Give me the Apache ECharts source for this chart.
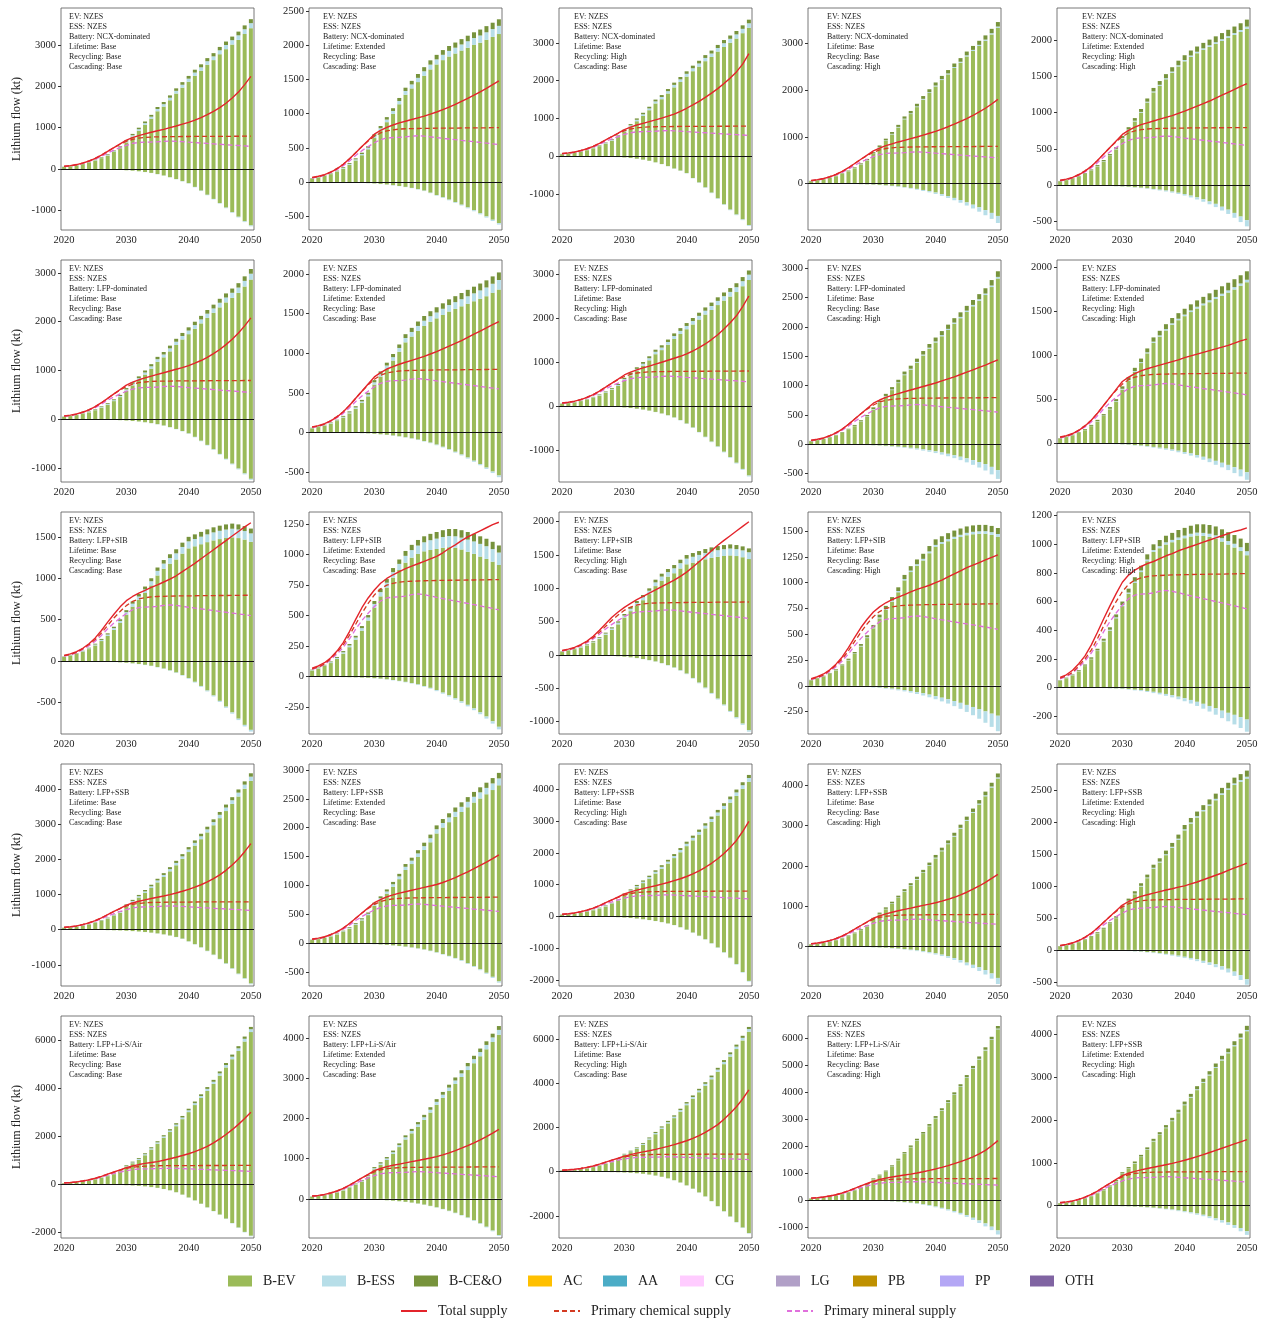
<!DOCTYPE html>
<html>
<head>
<meta charset="utf-8">
<script src="https://cdn.jsdelivr.net/npm/echarts@6/dist/echarts.min.js"></script>
<style>
  html, body { margin: 0; padding: 0; background: #fff; }
  #chart { width: 1267px; height: 1325px; }
</style>
</head>
<body>
<div id="chart"></div>
<script>
// years on the x axis
const years = ['2020','2021','2022','2023','2024','2025','2026','2027','2028','2029','2030',
  '2031','2032','2033','2034','2035','2036','2037','2038','2039','2040',
  '2041','2042','2043','2044','2045','2046','2047','2048','2049','2050'];

// supply lines shared by all panels (kt)
const chemSupply = [65,80,105,150,200,260,340,430,520,600,670,720,750,765,775,780,782,784,786,787,788,789,790,790,791,792,792,793,794,795,795];
const mineralSupply = [60,75,100,140,185,240,310,390,460,520,575,620,645,652,655,660,672,678,672,662,650,640,630,620,610,600,590,580,570,560,548];

// small stacked parts
const essPos = [3,4,5,6,8,10,12,15,18,22,28,33,38,43,48,55,58,62,66,70,74,78,82,86,90,95,100,105,110,115,120];
const ceoPos = [4,5,6,7,9,11,13,16,19,23,28,32,36,40,44,48,52,56,60,63,66,69,72,75,78,81,84,87,90,93,96];
const essPosHigh = [1,1,2,2,3,3,4,5,6,7,8,9,10,11,12,13,14,15,16,17,18,19,20,21,22,23,24,25,26,27,28];
const essPosSib = [3,4,5,7,9,11,14,17,21,25,30,35,40,45,50,56,62,68,74,80,85,88,91,94,97,100,102,104,104,103,102];
const ceoPosSib = [3,4,5,6,8,10,12,14,17,20,24,27,30,33,36,40,43,46,49,52,54,56,58,60,61,62,62,62,61,60,58];
const essNegBase = [0,0,0,0,0,0,0,-1,-1,-1,-1,-2,-2,-3,-3,-4,-4,-5,-6,-7,-8,-9,-10,-11,-12,-13,-14,-15,-17,-19,-21];
const essNegHigh4 = [0,0,0,0,-1,-1,-1,-2,-2,-3,-4,-5,-6,-8,-10,-12,-15,-18,-22,-26,-30,-36,-42,-50,-58,-68,-80,-94,-110,-128,-150];
const essNegHigh5 = [0,0,0,0,0,-1,-1,-1,-2,-2,-3,-4,-5,-6,-7,-9,-11,-13,-15,-18,-21,-25,-29,-34,-39,-45,-52,-59,-67,-76,-85];

// NCX-dominated
const evNcxBase = [53,71,94,122,158,209,265,329,413,505,644,785,926,1067,1218,1397,1510,1662,1824,1967,2110,2253,2376,2519,2632,2774,2896,3008,3120,3262,3404];
const evNcxExt = [53,69,91,117,151,197,253,317,393,480,644,755,876,997,1138,1277,1370,1462,1554,1647,1720,1783,1836,1879,1922,1964,2006,2038,2080,2122,2164];
const evNcxCasc = [55,73,95,123,158,208,263,326,408,498,636,774,914,1052,1199,1374,1486,1634,1794,1935,2076,2212,2333,2469,2580,2716,2832,2938,3049,3185,3326];
const evNcxExtCasc = [55,72,94,121,156,204,261,327,405,495,644,759,879,999,1139,1279,1369,1459,1549,1635,1706,1767,1818,1864,1905,1946,1987,2028,2069,2110,2156];
const evNegNcx1 = [0,-1,-2,-3,-4,-6,-8,-11,-15,-20,-28,-38,-52,-70,-92,-120,-155,-195,-240,-290,-340,-430,-520,-620,-720,-820,-930,-1040,-1150,-1260,-1360];
const evNegNcx2 = [0,0,-1,-2,-3,-4,-6,-8,-11,-15,-20,-27,-35,-45,-57,-70,-85,-103,-125,-155,-190,-222,-256,-292,-330,-370,-412,-456,-502,-550,-600];
const evNegNcx3 = [0,-1,-2,-3,-5,-7,-10,-14,-19,-25,-35,-50,-70,-95,-125,-165,-210,-265,-330,-385,-450,-580,-700,-830,-970,-1120,-1280,-1420,-1550,-1680,-1830];
const evNegNcx4 = [0,0,-1,-2,-3,-4,-6,-8,-11,-15,-20,-27,-36,-47,-60,-75,-92,-112,-135,-160,-190,-225,-265,-305,-350,-400,-450,-505,-565,-625,-690];
const evNegNcx5 = [0,0,-1,-1,-2,-3,-4,-6,-8,-11,-15,-20,-26,-33,-41,-50,-60,-72,-86,-102,-120,-142,-166,-192,-222,-255,-295,-335,-380,-430,-480];
const totalNcx1 = [70,85,110,145,195,260,340,430,520,610,700,760,810,850,890,925,960,1000,1040,1085,1130,1185,1245,1315,1395,1485,1590,1715,1860,2040,2240];
const totalNcx2 = [70,85,110,145,195,260,340,430,520,610,700,755,800,835,865,890,915,940,965,995,1025,1060,1095,1135,1180,1225,1270,1320,1370,1425,1480];
const totalNcx3 = [70,85,110,145,195,260,340,430,520,610,705,770,825,870,915,960,1010,1060,1115,1190,1270,1360,1455,1560,1670,1790,1925,2070,2235,2440,2720];
const totalNcx4 = [70,85,110,145,195,260,340,430,520,610,700,760,810,850,890,925,960,995,1035,1075,1115,1165,1215,1270,1330,1390,1455,1530,1610,1700,1800];
const totalNcx5 = [70,85,110,145,195,260,340,430,520,610,700,755,800,835,860,885,910,935,960,990,1020,1055,1090,1125,1160,1200,1240,1280,1320,1360,1400];

// LFP-dominated
const evLfpBase = [51,67,87,112,143,187,240,299,373,455,584,695,806,917,1038,1177,1270,1392,1524,1637,1745,1853,1966,2079,2182,2294,2396,2488,2590,2722,2864];
const evLfpExt = [51,67,87,112,143,187,240,299,373,455,604,705,806,907,1018,1137,1210,1282,1344,1397,1440,1483,1526,1559,1592,1624,1656,1688,1720,1762,1804];
const evLfpCasc = [53,70,90,116,148,194,248,309,385,470,594,704,814,924,1044,1179,1274,1389,1514,1630,1736,1842,1948,2054,2150,2256,2352,2448,2544,2680,2826];
const evLfpExtCasc = [53,70,90,116,148,194,248,309,385,470,609,709,809,909,1019,1139,1209,1279,1344,1395,1441,1487,1528,1564,1600,1636,1672,1708,1744,1785,1826];
const evNegLfp1 = [0,-1,-2,-3,-4,-5,-7,-10,-13,-18,-25,-34,-45,-60,-78,-100,-128,-160,-198,-240,-290,-360,-440,-525,-615,-710,-810,-910,-1010,-1110,-1220];
const evNegLfp2 = [0,0,-1,-2,-3,-4,-5,-7,-10,-13,-18,-24,-31,-40,-50,-62,-76,-92,-110,-130,-155,-182,-212,-245,-280,-318,-358,-400,-445,-495,-545];
const evNegLfp3 = [0,-1,-2,-3,-4,-6,-9,-12,-17,-23,-32,-45,-62,-82,-105,-135,-170,-210,-260,-320,-400,-490,-590,-700,-810,-920,-1040,-1160,-1290,-1430,-1580];
const evNegLfp4 = [0,0,-1,-1,-2,-3,-4,-6,-8,-11,-15,-20,-26,-33,-41,-50,-60,-72,-86,-102,-120,-140,-162,-186,-212,-240,-270,-302,-337,-385,-440];
const evNegLfp5 = [0,0,-1,-1,-2,-3,-4,-5,-7,-9,-12,-16,-21,-27,-34,-42,-51,-61,-72,-85,-100,-116,-134,-154,-176,-200,-222,-246,-272,-300,-330];
const totalLfp1 = [70,85,110,145,195,260,340,430,520,610,700,760,810,850,885,920,955,990,1025,1060,1100,1150,1205,1270,1345,1430,1530,1640,1770,1915,2080];
const totalLfp2 = [70,85,110,145,195,260,340,430,520,610,700,755,800,830,860,885,910,935,960,990,1020,1055,1090,1125,1160,1200,1240,1280,1320,1360,1400];
const totalLfp3 = [70,85,110,145,195,260,340,430,520,610,705,770,820,865,905,950,995,1040,1085,1130,1185,1250,1325,1410,1510,1620,1750,1890,2050,2260,2500];
const totalLfp4 = [70,85,110,145,195,260,340,430,520,610,700,755,800,835,865,895,925,955,985,1015,1045,1080,1115,1150,1190,1230,1270,1310,1350,1395,1440];
const totalLfp5 = [70,85,110,145,195,260,340,430,520,610,700,750,790,820,845,865,885,905,925,945,970,990,1010,1030,1050,1070,1090,1110,1135,1160,1180];

// LFP+SIB
const evSibBase = [52,68,88,112,145,189,242,304,377,460,561,658,740,822,914,1034,1115,1176,1227,1298,1361,1386,1411,1436,1457,1473,1486,1494,1485,1467,1440];
const evSibExt = [52,68,88,112,145,189,242,304,377,460,566,658,730,812,874,934,975,1006,1027,1038,1046,1056,1061,1056,1042,1023,1006,984,965,942,915];
const evSibCasc = [54,71,91,117,149,194,247,309,382,463,558,654,735,816,907,1022,1103,1164,1215,1286,1348,1375,1402,1424,1442,1460,1469,1473,1473,1463,1444];
const evSibExtCasc = [46,63,83,112,149,197,254,321,397,483,568,654,730,806,882,947,973,999,1015,1031,1043,1055,1062,1059,1052,1040,1019,998,978,953,924];
const evNegSib1 = [0,-1,-1,-2,-3,-4,-6,-8,-11,-15,-20,-27,-35,-45,-57,-72,-90,-112,-138,-168,-205,-250,-300,-355,-415,-480,-550,-620,-695,-770,-830];
const evNegSib2 = [0,0,-1,-1,-2,-3,-4,-5,-7,-9,-12,-16,-21,-27,-34,-42,-52,-63,-76,-91,-110,-130,-152,-176,-202,-230,-260,-292,-326,-365,-410];
const evNegSib3 = [0,-1,-2,-3,-4,-5,-7,-10,-14,-19,-26,-35,-46,-60,-77,-97,-122,-152,-188,-230,-280,-345,-415,-490,-570,-655,-745,-840,-935,-1030,-1130];
const evNegSib4 = [0,0,-1,-1,-2,-3,-4,-5,-7,-9,-12,-16,-21,-27,-34,-42,-51,-61,-72,-85,-100,-115,-130,-147,-165,-185,-205,-225,-248,-270,-290];
const evNegSib5 = [0,0,0,-1,-1,-2,-3,-4,-5,-7,-9,-12,-16,-20,-25,-31,-38,-46,-55,-65,-76,-88,-101,-115,-130,-146,-163,-178,-192,-208,-225];
const totalSib1 = [70,88,115,155,210,280,370,470,565,655,730,780,820,855,890,920,955,990,1030,1080,1130,1180,1235,1290,1345,1400,1455,1510,1565,1620,1670];
const totalSib2 = [70,88,115,155,210,280,370,470,565,645,710,765,805,835,860,885,905,925,945,965,985,1015,1050,1080,1115,1145,1170,1195,1220,1245,1265];
const totalSib3 = [70,88,115,155,210,280,370,470,565,645,715,775,830,880,930,977,1025,1075,1125,1180,1244,1320,1400,1480,1565,1647,1720,1790,1860,1930,2000];
const totalSib4 = [70,88,115,155,210,280,370,470,565,645,715,765,805,835,860,885,910,935,955,975,1000,1025,1055,1085,1115,1145,1170,1195,1220,1245,1270];
const totalSib5 = [70,88,120,165,220,295,385,480,570,655,735,785,820,845,865,880,900,920,935,955,970,985,1000,1015,1030,1045,1060,1075,1090,1100,1115];

// LFP+SSB
const evSsbBase = [53,69,89,115,148,194,250,314,393,485,664,785,916,1047,1188,1347,1500,1662,1834,2017,2210,2393,2576,2769,2972,3174,3376,3578,3790,4012,4234];
const evSsbExt = [53,69,89,115,148,194,250,314,393,485,644,745,856,977,1108,1267,1370,1492,1614,1747,1900,2003,2096,2189,2272,2354,2436,2508,2580,2652,2734];
const evSsbCasc = [55,72,92,119,153,201,258,324,405,495,674,799,924,1059,1204,1359,1504,1659,1824,2000,2186,2362,2538,2724,2920,3116,3312,3518,3724,3940,4166];
const evSsbExtCasc = [55,72,92,119,153,201,258,324,405,495,654,759,869,989,1119,1269,1364,1479,1594,1720,1866,1972,2068,2164,2250,2336,2422,2498,2574,2625,2676];
const evNegSsb1 = [0,-1,-2,-3,-4,-6,-8,-11,-15,-20,-28,-38,-50,-65,-83,-105,-132,-165,-205,-255,-330,-410,-500,-600,-710,-830,-960,-1100,-1250,-1380,-1530];
const evNegSsb2 = [0,0,-1,-2,-3,-4,-5,-7,-10,-13,-18,-24,-31,-40,-50,-62,-76,-92,-111,-133,-160,-190,-222,-258,-298,-350,-400,-455,-515,-585,-665];
const evNegSsb3 = [0,-1,-2,-3,-5,-7,-10,-14,-19,-26,-36,-50,-68,-90,-115,-145,-180,-222,-272,-340,-420,-510,-610,-720,-845,-980,-1130,-1300,-1500,-1750,-2030];
const evNegSsb4 = [0,0,-1,-2,-3,-4,-5,-7,-10,-13,-18,-24,-31,-40,-51,-64,-79,-97,-118,-142,-170,-202,-240,-285,-340,-400,-455,-515,-585,-670,-780];
const evNegSsb5 = [0,0,-1,-1,-2,-3,-4,-5,-7,-9,-12,-16,-21,-27,-34,-42,-52,-63,-76,-91,-108,-127,-148,-172,-198,-226,-258,-295,-340,-395,-460];
const totalSsb1 = [70,85,110,145,195,260,340,430,520,610,700,760,810,850,890,925,960,1000,1045,1095,1150,1210,1280,1360,1455,1560,1690,1840,2010,2220,2450];
const totalSsb2 = [70,85,110,145,195,260,340,430,520,610,700,755,800,835,865,890,915,940,965,990,1015,1050,1090,1135,1185,1235,1290,1345,1405,1465,1530];
const totalSsb3 = [70,85,110,145,195,260,340,430,520,610,705,770,825,875,920,965,1015,1065,1125,1185,1255,1340,1435,1545,1670,1815,1980,2170,2390,2670,2990];
const totalSsb4 = [70,85,110,145,195,260,340,430,520,610,700,760,810,850,885,920,950,985,1020,1050,1085,1125,1170,1220,1280,1345,1420,1500,1590,1690,1790];
const totalSsb5 = [70,85,110,145,195,260,340,430,520,610,700,755,800,835,860,885,910,935,955,980,1000,1030,1060,1095,1130,1165,1200,1240,1280,1315,1355];

// LFP+Li-S/Air
const evLisBase = [53,71,94,122,158,209,275,349,433,555,754,885,1026,1217,1458,1697,1940,2182,2424,2717,3010,3303,3596,3889,4182,4524,4866,5208,5550,5942,6334];
const evLisExt = [53,71,94,122,158,209,275,349,433,555,734,845,966,1117,1288,1477,1630,1792,1964,2147,2340,2513,2686,2859,3032,3204,3376,3548,3720,3902,4084];
const evLisCasc = [55,74,97,126,163,216,283,359,445,565,764,899,1044,1234,1474,1714,1954,2199,2444,2735,3026,3312,3608,3894,4190,4526,4862,5208,5544,5930,6326];
const evLisExtCasc = [55,74,97,126,163,216,283,359,445,565,744,859,984,1134,1304,1499,1649,1809,1974,2160,2346,2522,2698,2869,3040,3216,3392,3558,3724,3900,4076];
const evNegLis1 = [0,-1,-2,-3,-4,-6,-8,-11,-15,-20,-28,-40,-55,-75,-105,-140,-185,-240,-320,-420,-540,-660,-800,-950,-1100,-1250,-1420,-1600,-1790,-1970,-2130];
const evNegLis2 = [0,0,-1,-2,-3,-4,-5,-7,-10,-14,-20,-27,-36,-47,-60,-76,-95,-118,-145,-176,-212,-252,-298,-348,-404,-466,-534,-610,-695,-790,-900];
const evNegLis3 = [0,-1,-2,-3,-5,-7,-10,-14,-19,-26,-36,-50,-70,-95,-130,-175,-230,-300,-385,-490,-620,-770,-940,-1120,-1330,-1560,-1790,-2030,-2280,-2530,-2780];
const evNegLis4 = [0,0,-1,-2,-3,-4,-6,-8,-11,-15,-20,-27,-36,-48,-62,-80,-102,-128,-160,-198,-242,-292,-348,-410,-480,-560,-660,-760,-870,-990,-1130];
const evNegLis5 = [0,0,-1,-1,-2,-3,-4,-6,-8,-10,-14,-18,-24,-31,-40,-50,-62,-76,-93,-112,-134,-158,-185,-215,-255,-300,-345,-395,-455,-525,-600];
const totalLis1 = [70,85,110,145,195,260,340,430,520,610,700,770,830,880,915,950,1010,1070,1135,1205,1280,1370,1470,1590,1730,1900,2080,2280,2500,2740,3000];
const totalLis2 = [70,85,110,145,195,260,340,430,520,610,700,755,800,835,865,895,925,955,985,1015,1050,1095,1145,1200,1260,1325,1395,1470,1550,1635,1730];
const totalLis3 = [70,85,110,145,195,260,340,430,520,610,705,775,840,895,950,1010,1075,1145,1225,1310,1400,1510,1630,1780,1950,2130,2370,2640,2940,3290,3700];
const totalLis4 = [70,85,110,145,195,260,340,430,520,610,700,760,810,850,890,925,960,1000,1045,1095,1150,1210,1275,1345,1420,1505,1600,1710,1840,2010,2200];
const totalLis5 = [70,85,110,145,195,260,340,430,520,610,700,755,800,835,865,895,925,955,985,1020,1060,1100,1145,1190,1240,1290,1340,1390,1440,1490,1540];

// y axis ranges and tick labels, panel by panel (row-major)
const yMin = [-1470,-700,-1960,-990,-615, -1285,-627,-1727,-643,-440, -880,-469,-1186,-467,-326, -1600,-744,-2190,-980,-565, -2222,-975,-3000,-1410,-758];
const yMax = [3890,2545,3930,3750,2440, 3265,2177,3318,3142,2078, 1800,1349,2146,1685,1226, 4714,3104,4794,4525,2903, 7004,4550,7045,6820,4430];
const yTicks = [
  [-1000,0,1000,2000,3000], [-500,0,500,1000,1500,2000,2500], [-1000,0,1000,2000,3000], [0,1000,2000,3000], [-500,0,500,1000,1500,2000],
  [-1000,0,1000,2000,3000], [-500,0,500,1000,1500,2000], [-1000,0,1000,2000,3000], [-500,0,500,1000,1500,2000,2500,3000], [0,500,1000,1500,2000],
  [-500,0,500,1000,1500], [-250,0,250,500,750,1000,1250], [-1000,-500,0,500,1000,1500,2000], [-250,0,250,500,750,1000,1250,1500], [-200,0,200,400,600,800,1000,1200],
  [-1000,0,1000,2000,3000,4000], [-500,0,500,1000,1500,2000,2500,3000], [-2000,-1000,0,1000,2000,3000,4000], [0,1000,2000,3000,4000], [-500,0,500,1000,1500,2000,2500],
  [-2000,0,2000,4000,6000], [0,1000,2000,3000,4000], [-2000,0,2000,4000,6000], [-1000,0,1000,2000,3000,4000,5000,6000], [0,1000,2000,3000,4000]
];

// scenario notes
const lifetimeNames = ['Base','Extended','Base','Base','Extended'];
const recyclingNames = ['Base','Base','High','Base','High'];
const cascadingNames = ['Base','Base','Base','High','High'];

const panels = [
  {ev: evNcxBase, ess: essPos, ceo: ceoPos, evN: evNegNcx1, essN: essNegBase, total: totalNcx1, battery: 'NCX-dominated'},
  {ev: evNcxExt, ess: essPos, ceo: ceoPos, evN: evNegNcx2, essN: essNegBase, total: totalNcx2, battery: 'NCX-dominated'},
  {ev: evNcxBase, ess: essPos, ceo: ceoPos, evN: evNegNcx3, essN: essNegBase, total: totalNcx3, battery: 'NCX-dominated'},
  {ev: evNcxCasc, ess: essPosHigh, ceo: ceoPos, evN: evNegNcx4, essN: essNegHigh4, total: totalNcx4, battery: 'NCX-dominated'},
  {ev: evNcxExtCasc, ess: essPosHigh, ceo: ceoPos, evN: evNegNcx5, essN: essNegHigh5, total: totalNcx5, battery: 'NCX-dominated'},
  {ev: evLfpBase, ess: essPos, ceo: ceoPos, evN: evNegLfp1, essN: essNegBase, total: totalLfp1, battery: 'LFP-dominated'},
  {ev: evLfpExt, ess: essPos, ceo: ceoPos, evN: evNegLfp2, essN: essNegBase, total: totalLfp2, battery: 'LFP-dominated'},
  {ev: evLfpBase, ess: essPos, ceo: ceoPos, evN: evNegLfp3, essN: essNegBase, total: totalLfp3, battery: 'LFP-dominated'},
  {ev: evLfpCasc, ess: essPosHigh, ceo: ceoPos, evN: evNegLfp4, essN: essNegHigh4, total: totalLfp4, battery: 'LFP-dominated'},
  {ev: evLfpExtCasc, ess: essPosHigh, ceo: ceoPos, evN: evNegLfp5, essN: essNegHigh5, total: totalLfp5, battery: 'LFP-dominated'},
  {ev: evSibBase, ess: essPosSib, ceo: ceoPosSib, evN: evNegSib1, essN: essNegBase, total: totalSib1, battery: 'LFP+SIB'},
  {ev: evSibExt, ess: essPosSib, ceo: ceoPosSib, evN: evNegSib2, essN: essNegBase, total: totalSib2, battery: 'LFP+SIB'},
  {ev: evSibBase, ess: essPosSib, ceo: ceoPosSib, evN: evNegSib3, essN: essNegBase, total: totalSib3, battery: 'LFP+SIB'},
  {ev: evSibCasc, ess: essPosHigh, ceo: ceoPosSib, evN: evNegSib4, essN: essNegHigh4, total: totalSib4, battery: 'LFP+SIB'},
  {ev: evSibExtCasc, ess: essPosHigh, ceo: ceoPosSib, evN: evNegSib5, essN: essNegHigh5, total: totalSib5, battery: 'LFP+SIB'},
  {ev: evSsbBase, ess: essPos, ceo: ceoPos, evN: evNegSsb1, essN: essNegBase, total: totalSsb1, battery: 'LFP+SSB'},
  {ev: evSsbExt, ess: essPos, ceo: ceoPos, evN: evNegSsb2, essN: essNegBase, total: totalSsb2, battery: 'LFP+SSB'},
  {ev: evSsbBase, ess: essPos, ceo: ceoPos, evN: evNegSsb3, essN: essNegBase, total: totalSsb3, battery: 'LFP+SSB'},
  {ev: evSsbCasc, ess: essPosHigh, ceo: ceoPos, evN: evNegSsb4, essN: essNegHigh4, total: totalSsb4, battery: 'LFP+SSB'},
  {ev: evSsbExtCasc, ess: essPosHigh, ceo: ceoPos, evN: evNegSsb5, essN: essNegHigh5, total: totalSsb5, battery: 'LFP+SSB'},
  {ev: evLisBase, ess: essPos, ceo: ceoPos, evN: evNegLis1, essN: essNegBase, total: totalLis1, battery: 'LFP+Li-S/Air'},
  {ev: evLisExt, ess: essPos, ceo: ceoPos, evN: evNegLis2, essN: essNegBase, total: totalLis2, battery: 'LFP+Li-S/Air'},
  {ev: evLisBase, ess: essPos, ceo: ceoPos, evN: evNegLis3, essN: essNegBase, total: totalLis3, battery: 'LFP+Li-S/Air'},
  {ev: evLisCasc, ess: essPosHigh, ceo: ceoPos, evN: evNegLis4, essN: essNegHigh4, total: totalLis4, battery: 'LFP+Li-S/Air'},
  {ev: evLisExtCasc, ess: essPosHigh, ceo: ceoPos, evN: evNegLis5, essN: essNegHigh5, total: totalLis5, battery: 'LFP+SSB'}
];

const barNames = ['B-EV','B-ESS','B-CE&O','AC','AA','CG','LG','PB','PP','OTH'];
const barColors = ['#9bbb59','#b7dee8','#77933c','#ffc000','#4bacc6','#ffccff','#b1a0c7','#bf9000','#b4a7f5','#8064a2'];
const lineNames = ['Total supply','Primary chemical supply','Primary mineral supply'];
const lineColors = ['#e3242b','#d33a22','#e070dc'];

const FONT = 'Liberation Serif';
const gridLeft = [61, 309, 559, 808, 1057];
const gridTop = [8, 260, 512, 764, 1016];
const gridW = 193, gridH = 222;
const noteDx = [8, 14, 15, 19, 25];

const option = {
  animation: false,
  backgroundColor: '#fff',
  grid: [], xAxis: [], yAxis: [], series: [], title: [], legend: []
};

const tenth = (idx) => idx % 10 === 0;

panels.forEach((p, i) => {
  const r = Math.floor(i / 5), c = i % 5;
  option.grid.push({
    left: gridLeft[c], top: gridTop[r], width: gridW, height: gridH,
    show: true, borderColor: '#555', borderWidth: 0.8, backgroundColor: 'transparent'
  });
  option.xAxis.push({
    type: 'category', gridIndex: i, data: years, boundaryGap: true,
    axisLine: { show: false },
    axisTick: { alignWithLabel: true, interval: tenth, length: 3, lineStyle: { color: '#333' } },
    axisLabel: { interval: tenth, margin: 5, fontFamily: FONT, fontSize: 10.5, color: '#222' }
  });
  option.yAxis.push({
    type: 'value', gridIndex: i, min: yMin[i], max: yMax[i],
    splitLine: { show: false }, axisLine: { show: false },
    axisTick: { show: true, length: 3, customValues: yTicks[i], lineStyle: { color: '#333' } },
    axisLabel: { customValues: yTicks[i], margin: 5, fontFamily: FONT, fontSize: 10.5, color: '#222',
      formatter: (v) => String(v) },
    name: c === 0 ? 'Lithium flow (kt)' : '',
    nameLocation: 'middle', nameGap: 38,
    nameTextStyle: { fontFamily: FONT, fontSize: 12, color: '#222' }
  });
  option.title.push({
    text: 'EV: NZES\nESS: NZES\nBattery: ' + p.battery + '\nLifetime: ' + lifetimeNames[c] +
      '\nRecycling: ' + recyclingNames[c] + '\nCascading: ' + cascadingNames[c],
    left: gridLeft[c] + noteDx[c], top: gridTop[r] + 4, padding: 0,
    textStyle: { fontFamily: FONT, fontSize: 8, lineHeight: 10, fontWeight: 'normal', color: '#222' }
  });

  const bar = { type: 'bar', xAxisIndex: i, yAxisIndex: i, stack: 's' + i, barWidth: '64%' };
  option.series.push(
    Object.assign({}, bar, { name: 'B-EV', data: p.ev, itemStyle: { color: barColors[0] } }),
    Object.assign({}, bar, { name: 'B-ESS', data: p.ess, itemStyle: { color: barColors[1] } }),
    Object.assign({}, bar, { name: 'B-CE&O', data: p.ceo, itemStyle: { color: barColors[2] } }),
    Object.assign({}, bar, { name: 'B-EV', data: p.evN, itemStyle: { color: barColors[0] } }),
    Object.assign({}, bar, { name: 'B-ESS', data: p.essN, itemStyle: { color: barColors[1] } })
  );
  // the remaining categories are too small to see; keep them for the legend
  if (i === 0) {
    for (let k = 3; k < barNames.length; k++) {
      option.series.push(Object.assign({}, bar, { name: barNames[k], data: [], itemStyle: { color: barColors[k] } }));
    }
  }

  const line = { type: 'line', xAxisIndex: i, yAxisIndex: i, symbol: 'none', z: 4 };
  option.series.push(
    Object.assign({}, line, { name: 'Primary mineral supply', data: mineralSupply,
      itemStyle: { color: lineColors[2] },
      lineStyle: { color: lineColors[2], width: 1.3, type: [5, 3] } }),
    Object.assign({}, line, { name: 'Primary chemical supply', data: chemSupply,
      itemStyle: { color: lineColors[1] },
      lineStyle: { color: lineColors[1], width: 1.3, type: [5, 3] } }),
    Object.assign({}, line, { name: 'Total supply', data: p.total, z: 5,
      itemStyle: { color: lineColors[0] },
      lineStyle: { color: lineColors[0], width: 1.4 },
      markLine: { silent: true, symbol: 'none', label: { show: false },
        lineStyle: { color: '#111', width: 1.2, type: 'solid' }, data: [{ yAxis: 0 }] } })
  );
});

// legend entries placed one by one
const legendX1 = [228, 322, 414, 528, 603, 680, 776, 853, 940, 1030];
barNames.forEach((n, k) => {
  option.legend.push({
    data: [n], left: legendX1[k], top: 1274, padding: 0, icon: 'rect',
    itemWidth: 24, itemHeight: 11,
    textStyle: { fontFamily: FONT, fontSize: 14, color: '#222', padding: [0, 0, 0, 6] }
  });
});
const legendX2 = [400, 553, 786];
lineNames.forEach((n, k) => {
  option.legend.push({
    data: [n], left: legendX2[k], top: 1304, padding: 0,
    itemWidth: 26, itemHeight: 12, itemStyle: { opacity: 0 },
    lineStyle: { width: 2 },
    textStyle: { fontFamily: FONT, fontSize: 14, color: '#222', padding: [0, 0, 0, 6] }
  });
});

const chart = echarts.init(document.getElementById('chart'));
chart.setOption(option);
</script>
</body>
</html>
